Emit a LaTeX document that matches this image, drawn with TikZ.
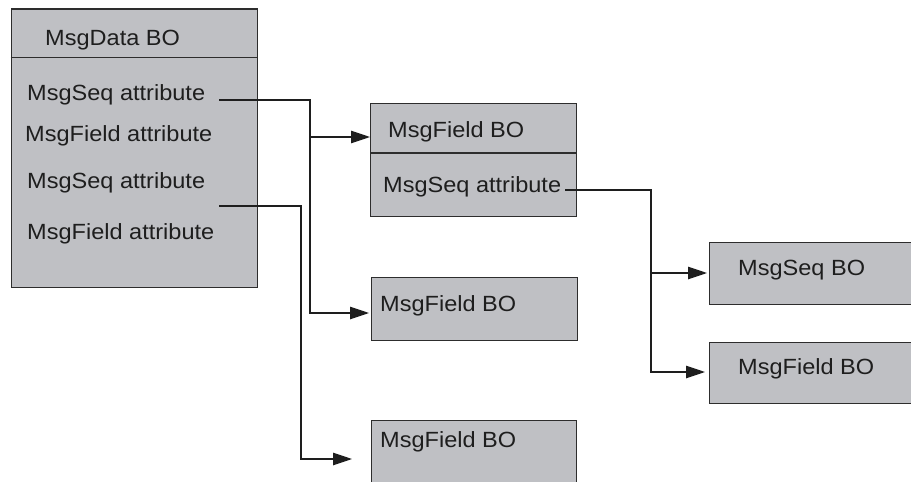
\documentclass[tikz,border=0pt]{standalone}
\usepackage{fontspec}
\newfontfamily\lblfont[FakeStretch=1.07]{Liberation Sans}
\usetikzlibrary{arrows.meta}
\definecolor{boxfill}{RGB}{191,192,196}
\definecolor{boxline}{RGB}{45,45,45}
\definecolor{lineclr}{RGB}{30,30,30}
\definecolor{txtclr}{RGB}{30,30,30}
\begin{document}
\begin{tikzpicture}[x=1pt,y=-1pt,
  box/.style={draw=boxline, fill=boxfill, line width=1.3pt, rectangle, inner sep=0pt, anchor=north west},
  lbl/.style={font=\lblfont\fontsize{22}{26}\selectfont, text=txtclr, inner sep=0pt, anchor=base west},
  conn/.style={draw=lineclr, line width=1.2pt, -{Triangle[length=19pt,width=12.5pt]}},
  divider/.style={draw=boxline, line width=1.3pt}]
\clip (0,0) rectangle (911,482);
% boxes
\node[box, minimum width=246pt, minimum height=278.7pt] (data) at (10.7,8.3) {};
\node[box, minimum width=206pt, minimum height=113pt] (fld1) at (370,103) {};
\node[box, minimum width=206pt, minimum height=63pt] (fld2) at (371,277) {};
\node[box, minimum width=205pt, minimum height=90pt] (fld3) at (371,420) {};
\node[box, minimum width=220pt, minimum height=62pt] (seqr) at (709,242) {};
\node[box, minimum width=220pt, minimum height=61pt] (fldr) at (709,342) {};
% dividers
\draw[divider] (10.7,57.5) -- (256.7,57.5);
\draw[divider] (370,153) -- (576,153);
% labels
\node[lbl] (t0) at (45,45) {MsgData BO};
\node[lbl] (a1) at (27,100) {MsgSeq attribute};
\node[lbl] (a2) at (25,141) {MsgField attribute};
\node[lbl] (a3) at (27,188) {MsgSeq attribute};
\node[lbl] (a4) at (27,239) {MsgField attribute};
\node[lbl] (t1) at (388,137) {MsgField BO};
\node[lbl] (b1) at (383,192) {MsgSeq attribute};
\node[lbl] (t2) at (380,311) {MsgField BO};
\node[lbl] (t3) at (380,447) {MsgField BO};
\node[lbl] (t4) at (738,275) {MsgSeq BO};
\node[lbl] (t5) at (738,374) {MsgField BO};
% connector points
\coordinate (s1) at (219,100);
\coordinate (s2) at (219,206);
\coordinate (s3) at (565,190);
\coordinate (j1) at (310,0);
\coordinate (j2) at (301,0);
\coordinate (j3) at (651,0);
\coordinate (e1) at (370,137);
\coordinate (e2) at (369,313);
\coordinate (e3) at (352,459);
\coordinate (e4) at (707,273);
\coordinate (e5) at (705,372);
% connectors
\draw[conn] (s1) -| (j1 |- e2) -- (e2);
\draw[conn] (j1 |- e1) -- (e1);
\draw[conn] (s2) -| (j2 |- e3) -- (e3);
\draw[conn] (s3) -| (j3 |- e5) -- (e5);
\draw[conn] (j3 |- e4) -- (e4);
\end{tikzpicture}
\end{document}
